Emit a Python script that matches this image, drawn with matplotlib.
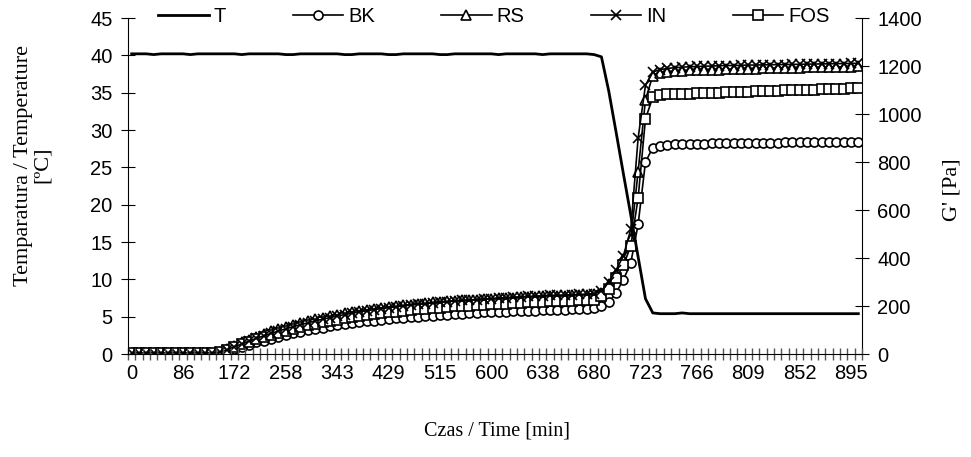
import matplotlib.pyplot as plt
from matplotlib.ticker import FixedLocator, MultipleLocator

# x axis tick labels (one label every 7 categories)
time_labels = ["0", "86", "172", "258", "343", "429", "515", "600",
               "638", "680", "723", "766", "809", "852", "895"]

# temperature [C]
T = [40.2, 40.2, 40.2, 40.1, 40.2, 40.2, 40.2, 40.2, 40.1, 40.2,
     40.2, 40.2, 40.2, 40.2, 40.2, 40.1, 40.2, 40.2, 40.2, 40.2,
     40.2, 40.1, 40.1, 40.2, 40.2, 40.2, 40.2, 40.2, 40.2, 40.1,
     40.1, 40.2, 40.2, 40.2, 40.2, 40.1, 40.1, 40.2, 40.2, 40.2,
     40.2, 40.2, 40.1, 40.1, 40.2, 40.2, 40.2, 40.2, 40.2, 40.2,
     40.1, 40.2, 40.2, 40.2, 40.2, 40.2, 40.1, 40.2, 40.2, 40.2,
     40.2, 40.2, 40.2, 40.1, 39.8, 35.2, 29.7, 24.1, 18.6, 13.0,
     7.4, 5.5, 5.4, 5.4, 5.4, 5.5, 5.4, 5.4, 5.4, 5.4,
     5.4, 5.4, 5.4, 5.4, 5.4, 5.4, 5.4, 5.4, 5.4, 5.4,
     5.4, 5.4, 5.4, 5.4, 5.4, 5.4, 5.4, 5.4, 5.4, 5.4]

# G' [Pa]
BK = [4, 4, 4, 4, 4, 4, 4, 4, 4, 4,
      4, 4, 6, 13, 21, 30, 39, 48, 56, 64,
      72, 79, 86, 92, 98, 104, 110, 115, 120, 124,
      128, 132, 136, 139, 142, 145, 148, 151, 154, 156,
      158, 160, 162, 164, 166, 168, 170, 171, 173, 174,
      176, 177, 178, 179, 180, 181, 182, 183, 184, 185,
      186, 187, 188, 190, 198, 215, 255, 310, 380, 540,
      800, 860, 868, 872, 874, 875, 876, 877, 877, 878,
      878, 879, 879, 880, 880, 880, 881, 881, 881, 882,
      882, 882, 883, 883, 883, 884, 884, 884, 885, 885]

RS = [5, 5, 5, 5, 5, 5, 5, 5, 5, 5,
      5, 6, 10, 22, 35, 48, 60, 72, 83, 94,
      104, 113, 122, 130, 138, 145, 152, 158, 164, 170,
      175, 180, 185, 189, 193, 197, 200, 203, 206, 209,
      212, 215, 217, 219, 221, 223, 225, 227, 229, 230,
      232, 233, 235, 236, 237, 239, 240, 241, 242, 243,
      244, 245, 246, 248, 255, 290, 335, 395, 480, 760,
      1060, 1160, 1172, 1175, 1178, 1180, 1182, 1183, 1184, 1185,
      1185, 1186, 1187, 1188, 1188, 1189, 1190, 1190, 1191, 1192,
      1192, 1193, 1194, 1194, 1195, 1195, 1196, 1197, 1197, 1198]

IN = [5, 5, 5, 5, 5, 5, 5, 5, 5, 5,
      5, 5, 8, 18, 30, 42, 54, 65, 76, 86,
      96, 105, 114, 122, 130, 138, 145, 152, 158, 164,
      170, 175, 180, 185, 189, 193, 197, 201, 204, 207,
      210, 213, 216, 218, 221, 223, 225, 227, 229, 231,
      233, 235, 237, 238, 240, 241, 243, 244, 245, 246,
      247, 248, 250, 252, 262, 300, 350, 410, 520, 900,
      1120, 1175, 1185, 1190, 1193, 1195, 1197, 1198, 1199, 1200,
      1201, 1202, 1202, 1203, 1204, 1204, 1205, 1205, 1206, 1206,
      1207, 1207, 1208, 1208, 1209, 1209, 1210, 1210, 1211, 1211]

FOS = [5, 5, 5, 5, 5, 5, 5, 5, 5, 5,
       5, 5, 8, 18, 29, 40, 51, 61, 71, 80,
       89, 97, 105, 112, 119, 126, 132, 138, 143, 148,
       153, 158, 162, 166, 170, 174, 177, 180, 183, 186,
       189, 191, 193, 196, 198, 200, 202, 204, 205, 207,
       209, 210, 212, 213, 215, 216, 217, 219, 220, 221,
       222, 224, 225, 227, 240, 270, 315, 370, 450, 650,
       980, 1070, 1080, 1082, 1083, 1084, 1085, 1086, 1087, 1088,
       1089, 1090, 1091, 1092, 1093, 1094, 1095, 1096, 1097, 1098,
       1099, 1100, 1101, 1102, 1103, 1104, 1105, 1106, 1107, 1108]

sans = "Liberation Sans"
serif = "Liberation Serif"


def main():
    n = len(T)
    x = list(range(n))

    fig = plt.figure(figsize=(9.71, 4.57), dpi=100)
    ax = fig.add_axes([128 / 971, 1 - 354 / 457, (862 - 128) / 971, (354 - 18) / 457])
    ax2 = ax.twinx()

    lT, = ax.plot(x, T, color="black", lw=2.0, zorder=3)
    ax.set_zorder(ax2.get_zorder() + 1)
    ax.patch.set_visible(False)

    style = dict(color="black", lw=1.2, ms=6.5, mfc="white", mec="black", mew=1.2)
    lBK, = ax2.plot(x, BK, marker="o", **style)
    lRS, = ax2.plot(x, RS, marker="^", **style)
    lFOS, = ax2.plot(x, FOS, marker="s", **style)
    lIN, = ax2.plot(x, IN, marker="x", **style)

    ax.set_xlim(-0.5, n - 0.5)
    ax.set_ylim(0, 45)
    ax2.set_ylim(0, 1400)
    ax.yaxis.set_major_locator(MultipleLocator(5))
    ax2.yaxis.set_major_locator(MultipleLocator(200))

    ax.xaxis.set_major_locator(FixedLocator(list(range(0, n, 7))))
    ax.set_xticklabels(time_labels)
    ax.xaxis.set_minor_locator(FixedLocator([i - 0.5 for i in range(n + 1)]))
    ax.tick_params(axis="x", which="major", length=0, pad=7)
    ax.tick_params(axis="x", which="minor", direction="inout", length=9,
                   width=1.0, color="#555555")

    ax.tick_params(axis="y", direction="inout", length=10, width=0.8, pad=6)
    ax2.tick_params(axis="y", direction="inout", length=10, width=0.8, pad=6)

    for a in (ax, ax2):
        a.spines["top"].set_visible(False)
        for lab in a.get_xticklabels() + a.get_yticklabels():
            lab.set_fontfamily(sans)
            lab.set_fontsize(14.5)
    ax.spines["right"].set_visible(False)
    ax2.spines["left"].set_visible(False)
    ax2.spines["bottom"].set_visible(False)

    fig.text(33 / 971, 1 - 165 / 457, "Temparatura / Temperature\n[ºC]",
             rotation=90, ha="center", va="center", multialignment="center",
             fontfamily=serif, fontsize=16, linespacing=1.05)
    fig.text(952 / 971, 1 - 190 / 457, "G' [Pa]", rotation=90,
             ha="center", va="center", fontfamily=serif, fontsize=16)
    fig.text(497 / 971, 1 - 431 / 457, "Czas / Time [min]", ha="center",
             va="center", fontfamily=serif, fontsize=14.5)

    fig.legend([lT, lBK, lRS, lIN, lFOS], ["T", "BK", "RS", "IN", "FOS"],
               loc="center", bbox_to_anchor=(494 / 971, 1 - 17 / 457), ncol=5,
               frameon=False, handlelength=2.5, handletextpad=0.25,
               columnspacing=3.3, borderpad=0.2,
               prop={"family": sans, "size": 14.5})

    fig.savefig("out.png", dpi=100, facecolor="white")


if __name__ == "__main__":
    main()
